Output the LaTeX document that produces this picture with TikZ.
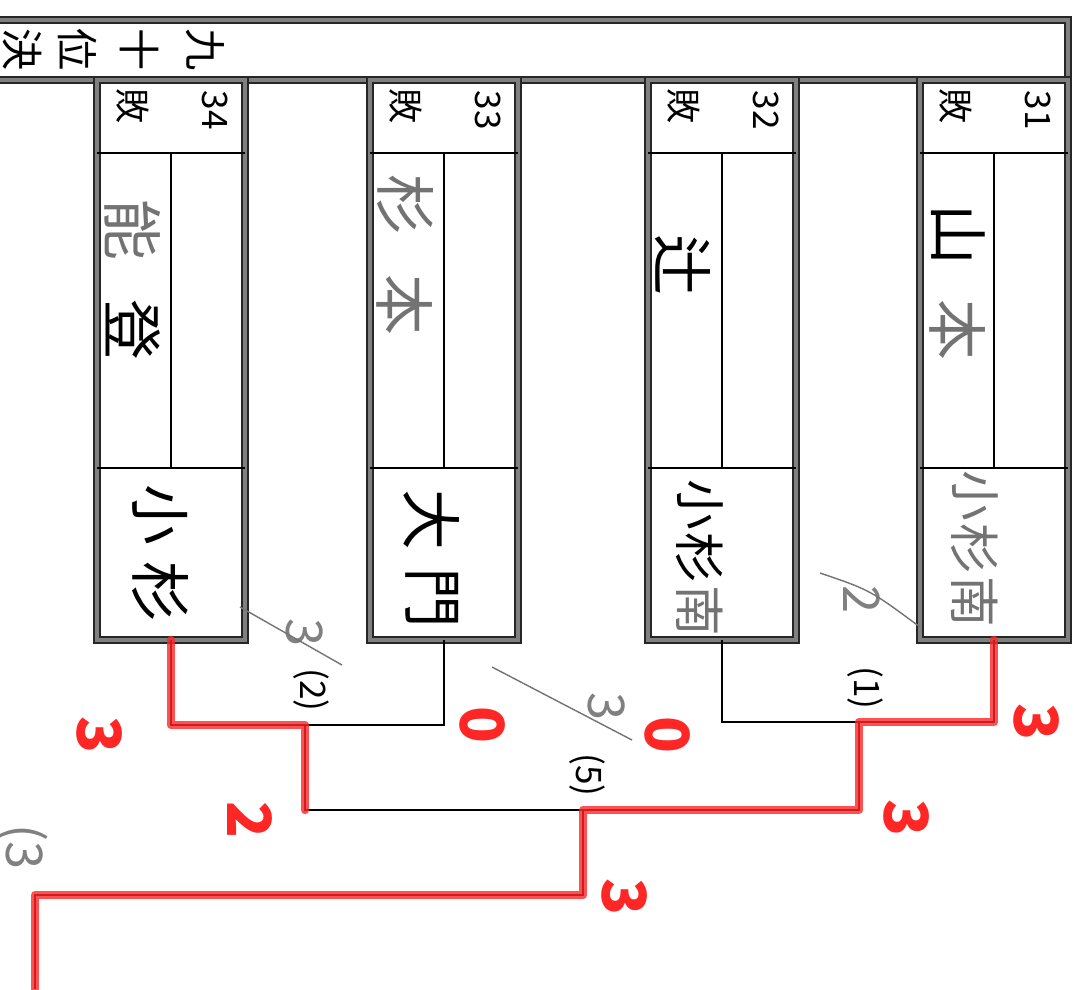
\documentclass[tikz,border=0pt]{standalone}
\usepackage{fontspec}
\newfontfamily\jp{Noto Sans CJK JP}
\usetikzlibrary{calc}

\tikzset{
  frame/.style={draw=black!85, double=black!50, double distance=0.9pt, line width=0.7pt},
  cell/.style={draw=black, line width=0.55pt},
  link/.style={draw=black, line width=0.6pt},
  win/.style={draw=red!85!white, line width=2.4pt, opacity=0.8, line join=round, line cap=round},
  score/.style={text=red!85!white, font=\jp\bfseries\LARGE, rotate=-90},
  printed/.style={font=\jp\normalsize, rotate=-90},
  pencil/.style={text=black!50, font=\jp\Large, rotate=-90},
  ink/.style={font=\jp\LARGE, rotate=-90},
}

\begin{document}
\begin{tikzpicture}[x=0.1mm, y=-0.1mm]
\useasboundingbox (0,0) rectangle (1074,989);
% header bar
\draw[frame] (-20,20) -- (1068,20) -- (1068,80) -- (-20,80);
\foreach \c/\x [count=\i] in {九/205, 十/140, 位/78, 決/22}
  \node[printed, font=\jp\large] (head\i) at (\x,50) {\c};

% the four boxes
\foreach \x/\n in {97/34, 370/33, 648/32, 920/31} {
  \draw[frame] (\x,80) rectangle ++(148,560);
  \draw[cell] (\x,153) -- ++(148,0) (\x,468) -- ++(148,0) (\x+74,153) -- (\x+74,468);
  \node[printed] (num\n) at (\x+118,110) {\n};
  \node[printed] (lost\n) at (\x+36,106) {敗};
  \coordinate (p\n) at (\x+74,640);
}

% names
\node[ink] (a31a) at (958,235) {山};
\node[ink, text=black!55] (a31b) at (958,330) {本};
\foreach \c [count=\i] in {小,杉,南}
  \node[ink, font=\jp\Large, text=black!55] (b31\i) at (975,443+53*\i) {\c};
\node[ink] (a32a) at (683,265) {辻};
\foreach \c/\k [count=\i] in {小/black,杉/black,南/black!55}
  \node[ink, font=\jp\Large, text=\k] (b32\i) at (700,452+53*\i) {\c};
\node[ink, text=black!55] (a33a) at (405,205) {杉};
\node[ink, text=black!55] (a33b) at (405,305) {本};
\node[ink] (b33a) at (432,520) {大};
\node[ink] (b33b) at (432,598) {門};
\node[ink, text=black!55] (a34a) at (133,230) {能};
\node[ink] (a34b) at (133,330) {登};
\node[ink] (b34a) at (160,515) {小};
\node[ink] (b34b) at (160,592) {杉};

% bracket
\coordinate (r1a) at (305,725);
\coordinate (r1b) at (859,722);
\coordinate (r2) at (583,810);
\coordinate (fin) at (35,895);
\coordinate (out) at (35,989);
\draw[link] (p34) |- (r1a) -| (p33);
\draw[link] (p32) |- (r1b) -| (p31);
\draw[link] (r1a) |- (r2) -| (r1b);
\draw[link] (r2) |- (fin) -- (out);

% winners in red
\draw[win] (p34) |- (r1a) -- (r1a |- r2);
\draw[win] (p31) |- (r1b) |- (r2) |- (fin) -- (out);
\node[score] (s34) at (100,735) {3};
\node[score] (s33) at (483,725) {0};
\node[score] (s34b) at (250,820) {2};
\node[score] (s32) at (668,735) {0};
\node[score] (s31) at (1037,722) {3};
\node[score] (s31b) at (907,818) {3};
\node[score] (s31c) at (625,897) {3};

% match numbers
\node[printed] (m1) at (865,688) {(1)};
\node[printed] (m2) at (311,690) {(2)};
\node[printed] (m5) at (587,775) {(5)};

% pencil notes
\node[pencil] (g2) at (305,633) {3};
\draw[black!55] (240,607) -- (342,665);
\node[pencil] (g5) at (607,707) {3};
\draw[black!55] (492,667) -- (632,740);
\node[pencil] (g1) at (862,600) {2};
\draw[black!55] (820,573) .. controls (870,590) .. (920,627);
\node[pencil] (g9) at (22,847) {(3};
\end{tikzpicture}
\end{document}
